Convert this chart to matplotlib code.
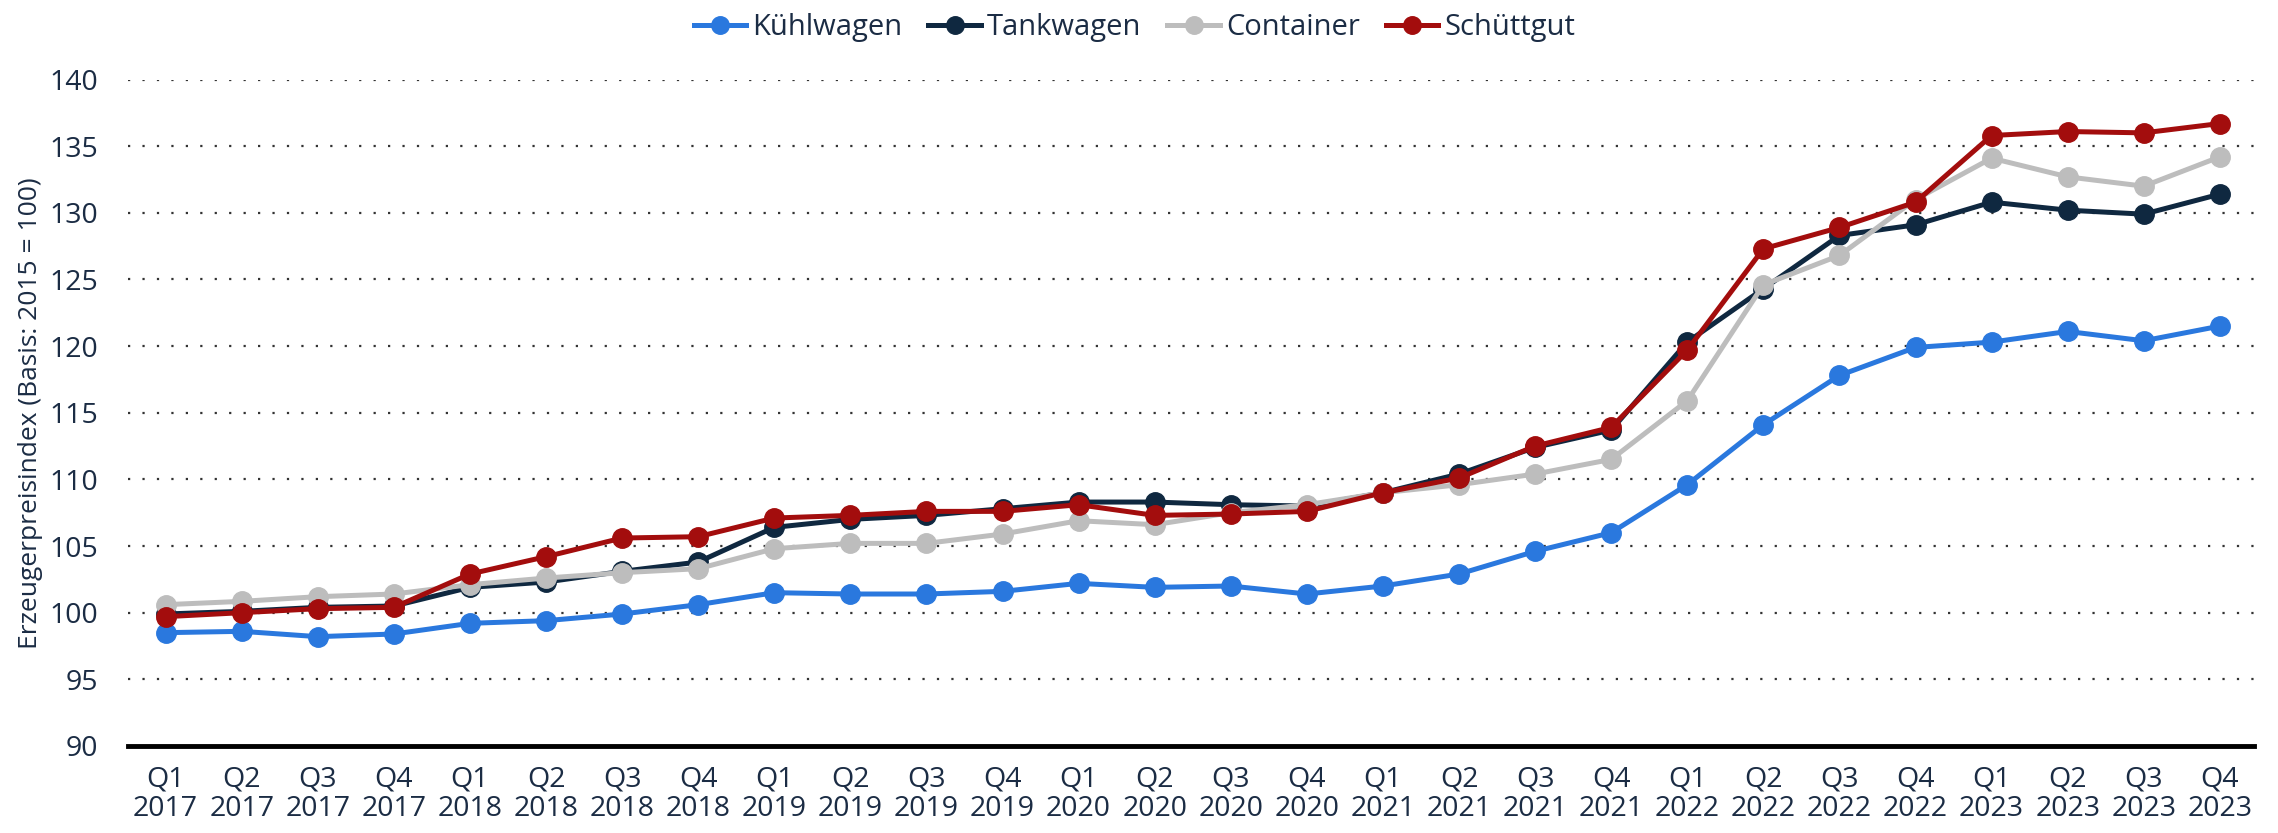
import matplotlib
matplotlib.use("Agg")
import matplotlib.pyplot as plt

plt.rcParams['font.family'] = ['Open Sans', 'DejaVu Sans']

quarters = ['Q1', 'Q2', 'Q3', 'Q4']
years = ['2017', '2018', '2019', '2020', '2021', '2022', '2023']
labels = [q + '\n' + y for y in years for q in quarters]

kuehlwagen = [98.5, 98.6, 98.2, 98.4, 99.2, 99.4, 99.9, 100.6,
              101.5, 101.4, 101.4, 101.6, 102.2, 101.9, 102.0, 101.4,
              102.0, 102.9, 104.6, 106.0, 109.6, 114.1, 117.8, 119.9,
              120.3, 121.1, 120.4, 121.5]
tankwagen = [99.9, 100.1, 100.4, 100.5, 101.9, 102.3, 103.1, 103.8,
             106.4, 107.0, 107.3, 107.8, 108.3, 108.3, 108.1, 108.0,
             109.0, 110.4, 112.4, 113.7, 120.3, 124.3, 128.3, 129.1,
             130.8, 130.2, 129.9, 131.4]
container = [100.6, 100.85, 101.2, 101.4, 102.1, 102.6, 103.0, 103.3,
             104.8, 105.2, 105.2, 105.9, 106.9, 106.6, 107.5, 108.1,
             109.0, 109.6, 110.4, 111.5, 115.9, 124.6, 126.8, 131.0,
             134.1, 132.7, 132.0, 134.2]
schuettgut = [99.7, 100.0, 100.3, 100.4, 102.9, 104.2, 105.6, 105.7,
              107.1, 107.3, 107.6, 107.6, 108.1, 107.3, 107.4, 107.6,
              109.0, 110.1, 112.5, 113.9, 119.7, 127.3, 128.9, 130.8,
              135.8, 136.1, 136.0, 136.7]

series = [('Kühlwagen', kuehlwagen, '#2a78de'),
          ('Tankwagen', tankwagen, '#0f2840'),
          ('Container', container, '#bdbdbd'),
          ('Schüttgut', schuettgut, '#a30d0d')]

text_col = '#1b2c44'

fig = plt.figure(figsize=(22.78, 8.33), dpi=100)
ax = fig.add_axes([0.056, 0.1045, 0.9335, 0.80])

x = list(range(len(labels)))
for name, vals, col in series:
    ax.plot(x, vals, color=col, lw=3.6, marker='o', markersize=14, label=name)

ax.set_xlim(-0.5, 27.45)
ax.set_ylim(90, 140)
ax.set_yticks(range(90, 141, 5))
ax.set_xticks(x)
ax.set_xticklabels(labels)

for yv in range(95, 141, 5):
    ax.axhline(yv, color='#333333', lw=1.6, linestyle=(0, (1, 5.5)), zorder=0)

for s in ['top', 'right', 'left']:
    ax.spines[s].set_visible(False)
ax.spines['bottom'].set_linewidth(3.5)
ax.spines['bottom'].set_color('black')

ax.tick_params(axis='y', length=0, pad=21, labelsize=20.5, labelcolor=text_col)
ax.tick_params(axis='x', length=0, pad=14, labelsize=20.5, labelcolor=text_col)
for t in ax.get_xticklabels():
    t.set_linespacing(1.1)

ax.set_ylabel('Erzeugerpreisindex (Basis: 2015 = 100)', fontsize=19,
              color=text_col, labelpad=5)

fig.legend(loc='upper center', bbox_to_anchor=(0.498, 1.016), ncol=4,
           frameon=False, fontsize=21, handlelength=1.8, handletextpad=0.2,
           columnspacing=0.9, labelcolor=text_col, markerscale=0.9)

fig.savefig('out.png', dpi=100)
